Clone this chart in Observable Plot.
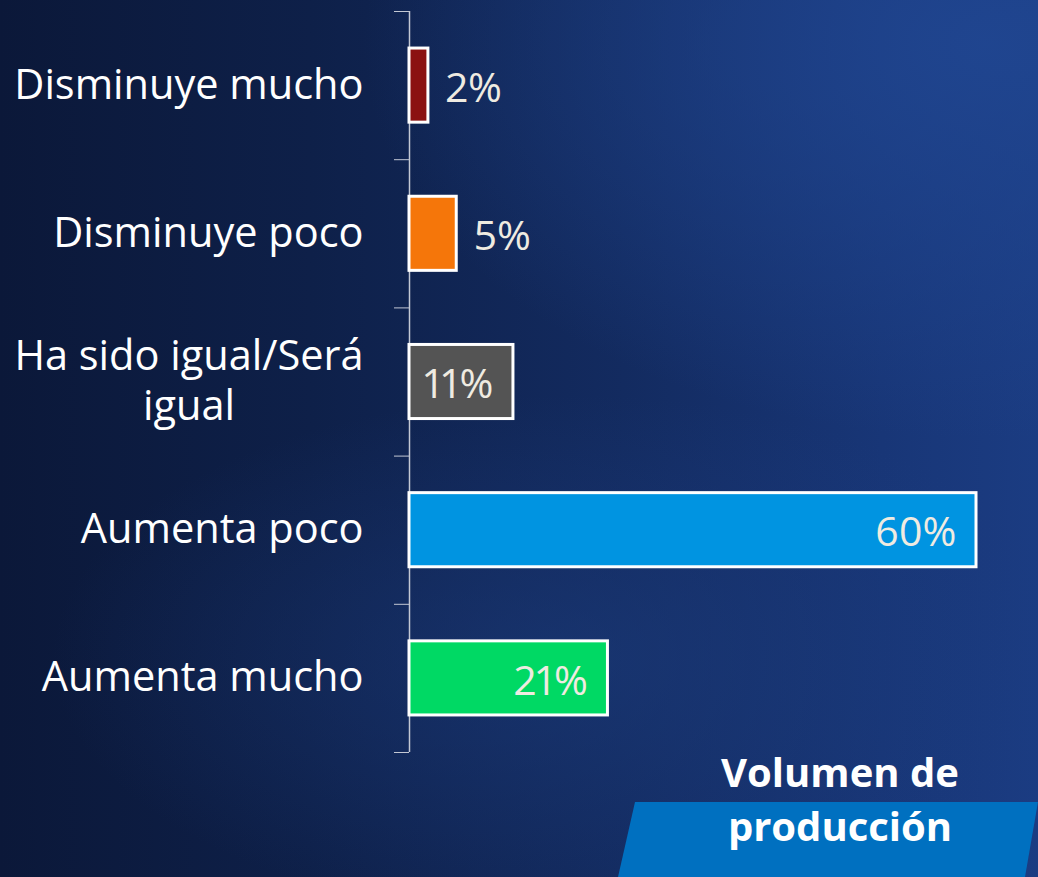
<!DOCTYPE html>
<html>
<head>
<meta charset="utf-8">
<script src="https://cdn.jsdelivr.net/npm/d3@7"></script>
<script src="https://cdn.jsdelivr.net/npm/@observablehq/plot@0.6"></script>
<style>
  html, body { margin: 0; padding: 0; }
  body {
    width: 1038px; height: 877px; overflow: hidden; position: relative;
    font-family: "Open Sans", sans-serif;
    background:
      radial-gradient(ellipse 60% 45% at 95% 5%, rgba(32,70,145,0.9), rgba(32,70,145,0) 100%),
      radial-gradient(ellipse 50% 30% at 55% 75%, rgba(28,60,125,0.55), rgba(28,60,125,0) 100%),
      linear-gradient(90deg, #0b1839 0%, #0e2049 30%, #132b60 60%, #183677 85%, #1b3c82 100%);
  }
  #chart { position: absolute; left: 0; top: 0; }
  #band {
    position: absolute; left: 618px; top: 802px; width: 420px; height: 75px;
    background: #0070c0;
    clip-path: polygon(17px 0, 100% 0, 407px 100%, 0 100%);
  }
  #caption {
    position: absolute; left: 640px; top: 745px; width: 400px;
    text-align: center; color: #ffffff; font-weight: 700;
    font-size: 40px; line-height: 54px;
  }
</style>
</head>
<body>
<div id="chart"></div>
<div id="band"></div>
<div id="caption">Volumen de<br>producción</div>
<script>
const categories = ["Disminuye mucho", "Disminuye poco", "Ha sido igual/Será\nigual", "Aumenta poco", "Aumenta mucho"];
const values = [2, 5, 11, 60, 21];
const colors = ["#8b1111", "#f5760a", "#545454", "#0094e1", "#00d964"];

const rows = categories.map((c, i) => ({i, category: c, value: values[i], color: colors[i]}));

const chart = Plot.plot({
  width: 1038,
  height: 877,
  marginLeft: 409,
  marginRight: 62,
  marginTop: 11,
  marginBottom: 125,
  style: {background: "transparent", fontFamily: "Open Sans", color: "#c3c8d4", overflow: "visible"},
  x: {domain: [0, 60], axis: null},
  y: {domain: [0, 5], reverse: true, ticks: 5, tickSize: 15, tickFormat: () => "", label: null},
  color: {type: "identity"},
  marks: [
    Plot.ruleX([0], {y1: 0, y2: 5, stroke: "#c3c8d4", strokeWidth: 1.5}),
    Plot.rectX(rows, {x1: 0, x2: "value", y1: d => d.i + 0.25, y2: d => d.i + 0.75, fill: "color", stroke: "white", strokeWidth: 3}),
    Plot.text(rows, {x: 0, y: d => d.i + 0.5, text: "category", textAnchor: "end", dx: -46, dy: -3, fontSize: 41.5, fill: "white", lineHeight: 1.2}),
    Plot.text(rows.filter(d => d.value < 10), {x: "value", y: d => d.i + 0.5, text: d => d.value + "%", textAnchor: "start", dx: 17, dy: 3, fontSize: 41, fontWeight: 500, fontVariant: "proportional-nums", fill: "#efebe1"}),
    Plot.text(rows.filter(d => d.value >= 10), {x: "value", y: d => d.i + 0.5, text: d => d.value + "%", textAnchor: "end", dx: -20, dy: 3, fontSize: 41, fontWeight: 500, fontVariant: "proportional-nums", fill: "#efebe1"})
  ]
});
document.getElementById("chart").appendChild(chart);

// center multi-line category labels as a block (right-aligned block, centered lines)
chart.querySelectorAll("text").forEach(t => {
  const spans = t.querySelectorAll("tspan");
  if (spans.length > 1) {
    const w = t.getBBox().width;
    t.setAttribute("text-anchor", "middle");
    const tr = t.getAttribute("transform") || "";
    t.setAttribute("transform", tr + ` translate(${-w / 2},0)`);
  }
});
</script>
</body>
</html>
